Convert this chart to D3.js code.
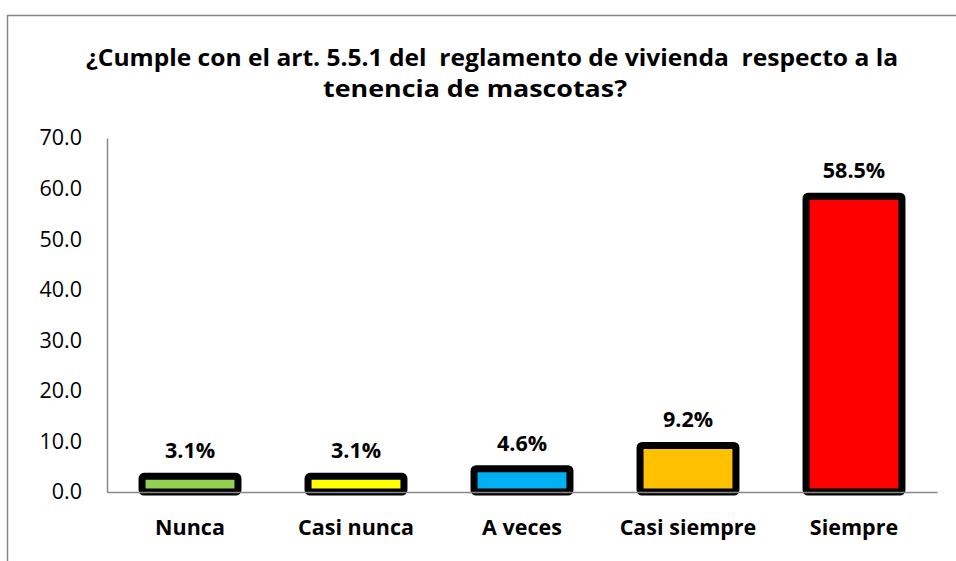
<!DOCTYPE html>
<html><head><meta charset="utf-8">
<script src="https://cdn.jsdelivr.net/npm/d3@7"></script>
<style>body{margin:0;background:#fff}svg{display:block}</style>
</head><body>
<svg id="c" width="956" height="561"></svg>
<script>
const categories = ["Nunca","Casi nunca","A veces","Casi siempre","Siempre"];
const values = [3.1, 3.1, 4.6, 9.2, 58.5];
const colors = ["#92D050","#FFFF00","#00B0F0","#FFC000","#FF0000"];
const yTicks = [0,10,20,30,40,50,60,70];
const titleLines = ["¿Cumple con el art. 5.5.1 del  reglamento de vivienda  respecto a la","tenencia de mascotas?"];

const svg = d3.select("#c");
const font = "'Open Sans', sans-serif";
svg.append("path").attr("d","M7.5,561 V15.5 H956").attr("fill","none").attr("stroke","#878787").attr("stroke-width",1.5);

const x0=107, x1=937, yTop=138, yBot=492;
const x = d3.scaleBand().domain(categories).range([x0,x1]).paddingInner(0.38).paddingOuter(0.19);
const y = d3.scaleLinear().domain([0,70]).range([yBot,yTop]);

const titleCx = [492, 475], titleW = [812, 304];
svg.append("g").selectAll("text").data(titleLines).join("text")
  .attr("x",(d,i)=>titleCx[i]).attr("y",(d,i)=>66+i*31).attr("text-anchor","middle")
  .attr("font-family",font).attr("font-weight","bold").attr("font-size",23.5).attr("fill","#000")
  .attr("textLength",(d,i)=>titleW[i]).attr("lengthAdjust","spacingAndGlyphs")
  .attr("xml:space","preserve").style("white-space","pre").text(d=>d);

const ya = svg.append("g").attr("transform",`translate(${x0},0)`).call(d3.axisLeft(y).tickValues(yTicks).tickFormat(d3.format(".1f")).tickSize(0).tickPadding(25));
ya.select(".domain").attr("stroke","#878787").attr("stroke-width",1.5);
ya.selectAll("text").attr("font-family",font).attr("font-size",21.5).attr("fill","#000");

svg.append("g").selectAll("rect").data(values).join("rect")
  .attr("x",(d,i)=>x(categories[i])+3.5).attr("width",x.bandwidth()-7)
  .attr("y",d=>y(d)).attr("height",d=>yBot-y(d))
  .attr("rx",2).attr("fill",(d,i)=>colors[i]).attr("stroke","#000").attr("stroke-width",7).attr("stroke-linejoin","round");

const xa = svg.append("g").attr("transform",`translate(0,${yBot})`).call(d3.axisBottom(x).tickSize(0));
xa.select(".domain").attr("stroke","#878787").attr("stroke-width",1.5);
xa.selectAll("text").attr("y",43).attr("dy",null).attr("font-family",font).attr("font-weight","bold").attr("font-size",21.5).attr("fill","#000");

svg.append("g").selectAll("text").data(values).join("text")
  .attr("x",(d,i)=>x(categories[i])+x.bandwidth()/2).attr("y",d=>y(d)-18)
  .attr("text-anchor","middle").attr("font-family",font).attr("font-weight","bold").attr("font-size",21.5).attr("fill","#000")
  .text(d=>d.toFixed(1)+"%");
</script>
</body></html>
